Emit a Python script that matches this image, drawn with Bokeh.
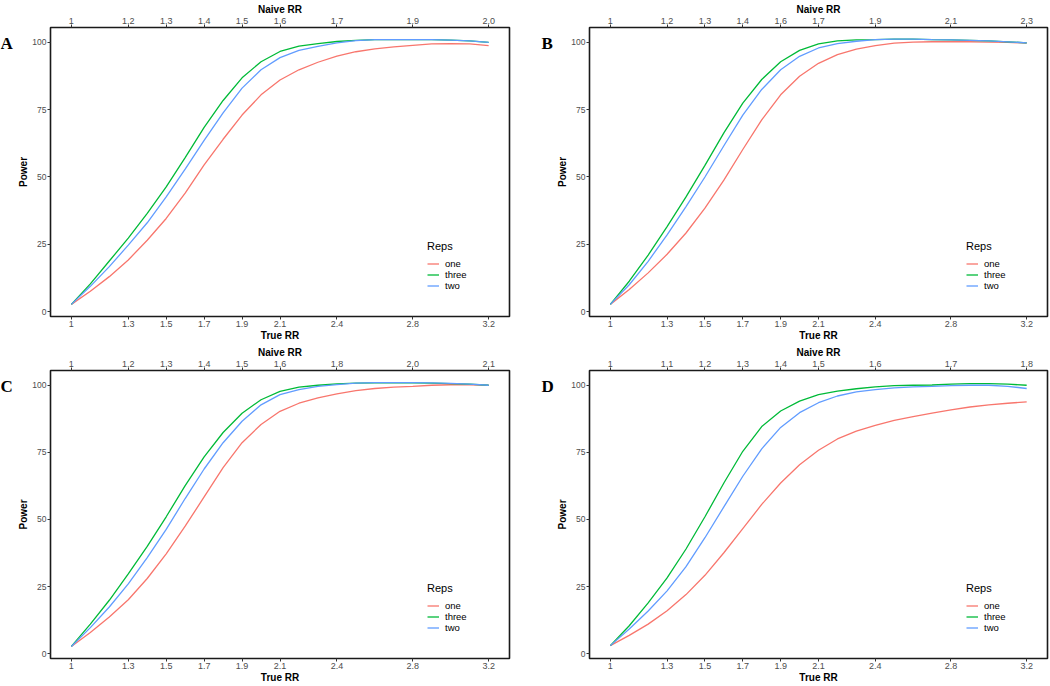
from bokeh.plotting import figure
from bokeh.models import LinearAxis, FixedTicker, Range1d
from bokeh.layouts import row, column
from bokeh.embed import file_html
from bokeh.resources import INLINE
from bokeh.core.properties import value

# ---------------- data ----------------
true_rr = [1.0, 1.1, 1.2, 1.3, 1.4, 1.5, 1.6, 1.7, 1.8, 1.9, 2.0, 2.1,
           2.2, 2.3, 2.4, 2.5, 2.6, 2.7, 2.8, 2.9, 3.0, 3.1, 3.2]

true_ticks = [1.0, 1.3, 1.5, 1.7, 1.9, 2.1, 2.4, 2.8, 3.2]
true_tick_labels = ["1", "1.3", "1.5", "1.7", "1.9", "2.1", "2.4", "2.8", "3.2"]
power_ticks = [0, 25, 50, 75, 100]

naive_labels_a = ["1", "1.2", "1.3", "1.4", "1.5", "1.6", "1.7", "1.9", "2.0"]
naive_labels_b = ["1", "1.2", "1.3", "1.4", "1.6", "1.7", "1.9", "2.1", "2.3"]
naive_labels_c = ["1", "1.2", "1.3", "1.4", "1.5", "1.6", "1.8", "2.0", "2.1"]
naive_labels_d = ["1", "1.1", "1.2", "1.3", "1.4", "1.5", "1.6", "1.7", "1.8"]

panel_letters = ["A", "B", "C", "D"]
reps = ["one", "three", "two"]

a_one = [2.7, 7.6, 13.0, 19.2, 26.5, 34.6, 44.0, 54.5, 64.0, 73.0, 80.5, 86.0,
         89.8, 92.6, 94.9, 96.5, 97.6, 98.3, 98.9, 99.4, 99.5, 99.4, 98.8]
a_three = [2.7, 10.3, 18.8, 27.3, 36.5, 46.3, 57.2, 68.4, 78.4, 86.8, 92.8, 96.6,
           98.6, 99.5, 100.3, 100.7, 101.0, 101.0, 101.0, 101.0, 100.8, 100.5, 100.0]
a_two = [2.7, 9.4, 16.7, 24.7, 33.0, 42.6, 52.9, 63.6, 73.8, 83.0, 89.8, 94.3,
         97.0, 98.5, 99.8, 100.6, 101.0, 101.0, 101.0, 101.0, 100.8, 100.5, 100.0]

b_one = [2.7, 8.2, 14.4, 21.3, 29.2, 38.4, 48.8, 60.2, 71.2, 80.5, 87.4, 92.2,
         95.4, 97.5, 98.8, 99.7, 100.1, 100.2, 100.2, 100.2, 100.1, 100.0, 99.7]
b_three = [2.7, 11.3, 21.0, 31.6, 42.6, 54.3, 66.4, 77.4, 86.2, 92.8, 97.0, 99.4,
           100.5, 100.9, 101.0, 101.2, 101.2, 101.0, 100.9, 100.7, 100.5, 100.2, 99.8]
b_two = [2.7, 10.0, 18.7, 28.5, 39.0, 50.0, 61.6, 73.0, 82.5, 89.8, 94.8, 97.9,
         99.5, 100.4, 101.0, 101.2, 101.2, 101.0, 100.9, 100.7, 100.5, 100.2, 99.8]

c_one = [2.7, 7.9, 13.7, 20.1, 28.0, 37.2, 47.5, 58.4, 69.3, 78.6, 85.4, 90.3,
         93.3, 95.3, 96.8, 98.0, 98.8, 99.3, 99.6, 100.0, 100.2, 100.2, 100.0]
c_three = [2.7, 11.0, 19.9, 29.7, 40.0, 51.0, 62.6, 73.3, 82.4, 89.6, 94.6, 97.7,
           99.3, 100.0, 100.5, 100.8, 100.9, 100.9, 100.9, 100.8, 100.6, 100.4, 100.0]
c_two = [2.7, 9.7, 17.4, 26.0, 35.8, 46.3, 57.8, 68.8, 78.6, 86.6, 92.7, 96.5,
         98.4, 99.6, 100.2, 100.8, 101.0, 101.0, 101.0, 100.9, 100.7, 100.4, 100.0]

d_one = [3.0, 6.8, 11.0, 16.0, 22.0, 29.2, 37.6, 46.6, 55.6, 63.6, 70.4, 75.8,
         80.0, 82.9, 85.1, 86.9, 88.3, 89.6, 90.8, 91.9, 92.7, 93.3, 93.8]
d_three = [3.0, 10.4, 18.9, 28.2, 39.0, 51.0, 63.6, 75.4, 84.6, 90.4, 94.1, 96.5,
           97.8, 98.7, 99.4, 99.9, 100.0, 100.1, 100.4, 100.6, 100.6, 100.4, 100.0]
d_two = [3.0, 9.2, 15.9, 23.4, 32.4, 43.2, 54.7, 66.1, 76.3, 84.3, 89.8, 93.5,
         96.0, 97.5, 98.4, 99.0, 99.4, 99.6, 99.9, 100.0, 100.0, 99.6, 98.8]

colors = ["#F8766D", "#00BA38", "#619CFF"]

FONT = "Liberation Sans"
Y_START, Y_END = -1.8, 105.5


def style_axis(ax, label):
    ax.axis_label = label
    ax.axis_line_color = None
    ax.major_tick_line_color = "#333333"
    ax.major_tick_out = 3
    ax.major_tick_in = 0
    ax.minor_tick_line_color = None
    ax.major_label_text_color = "#4D4D4D"
    ax.major_label_text_font = FONT
    ax.major_label_text_font_size = "9px"
    ax.major_label_standoff = 1
    ax.axis_label_text_font = FONT
    ax.axis_label_text_font_style = "bold"
    ax.axis_label_text_font_size = "10px"
    ax.axis_label_text_color = "black"
    ax.axis_label_standoff = 0


def make_letter(letter, width, height, x_off, border_bottom):
    p = figure(width=width, height=height, x_range=Range1d(0, width),
               y_range=Range1d(Y_START, Y_END),
               output_backend="svg", toolbar_location=None,
               x_axis_type=None, y_axis_type=None, min_border=0,
               min_border_bottom=border_bottom)
    p.xgrid.visible = False
    p.ygrid.visible = False
    p.outline_line_color = None
    p.text(x=[x_off], y=[99.5], text=[letter],
           text_font=value("Liberation Serif"), text_font_style="bold",
           text_font_size="17px", text_baseline="middle", text_align="left",
           text_color="black")
    return p


def make_panel(naive_labels, series, width, height, border_left, border_right, border_bottom):
    p = figure(width=width, height=height,
               x_range=Range1d(0.89, 3.31), y_range=Range1d(Y_START, Y_END),
               output_backend="svg", toolbar_location=None,
               min_border_left=border_left, min_border_right=border_right,
               min_border_top=2, min_border_bottom=border_bottom)
    p.xgrid.visible = False
    p.ygrid.visible = False
    p.outline_line_color = "#1a1a1a"
    p.outline_line_width = 1.6

    xa = p.xaxis[0]
    xa.ticker = FixedTicker(ticks=true_ticks)
    xa.major_label_overrides = dict(zip(true_ticks, true_tick_labels))
    style_axis(xa, "True RR")

    ya = p.yaxis[0]
    ya.ticker = FixedTicker(ticks=power_ticks)
    style_axis(ya, "Power")
    ya.major_label_text_font_size = "8.5px"
    ya.major_label_standoff = 1

    top = LinearAxis(ticker=FixedTicker(ticks=true_ticks),
                     major_label_overrides=dict(zip(true_ticks, naive_labels)))
    style_axis(top, "Naive RR")
    p.add_layout(top, "above")

    for name, ys, col in zip(reps, series, colors):
        p.line(true_rr, ys, line_color=col, line_width=1.3, legend_label=name)

    lg = p.legend[0]
    lg.location = (377, 25)
    lg.title = "Reps"
    lg.title_text_font = FONT
    lg.title_text_font_size = "11px"
    lg.title_text_font_style = "normal"
    lg.title_text_color = "black"
    lg.title_standoff = 6
    lg.label_text_font = FONT
    lg.label_text_font_size = "9.5px"
    lg.label_text_color = "black"
    lg.label_height = 11
    lg.glyph_height = 11
    lg.glyph_width = 12
    lg.label_standoff = 6
    lg.spacing = 0
    lg.padding = 0
    lg.margin = 0
    lg.background_fill_alpha = 0
    lg.border_line_alpha = 0
    return p


H1, H2 = 343, 342
la = make_letter(panel_letters[0], 14, H1, 0, 26)
pa = make_panel(naive_labels_a, [a_one, a_three, a_two], 524, H1, 36, 29, 26)
lb = make_letter(panel_letters[1], 16, H1, 3, 26)
pb = make_panel(naive_labels_b, [b_one, b_three, b_two], 495, H1, 34, 2, 26)
lc = make_letter(panel_letters[2], 14, H2, 0, 2)
pc = make_panel(naive_labels_c, [c_one, c_three, c_two], 524, H2, 36, 29, 2)
ld = make_letter(panel_letters[3], 16, H2, 3, 2)
pd = make_panel(naive_labels_d, [d_one, d_three, d_two], 495, H2, 34, 2, 2)

layout = column(row(la, pa, lb, pb), row(lc, pc, ld, pd))

open("out.html", "w").write(file_html(layout, INLINE))
